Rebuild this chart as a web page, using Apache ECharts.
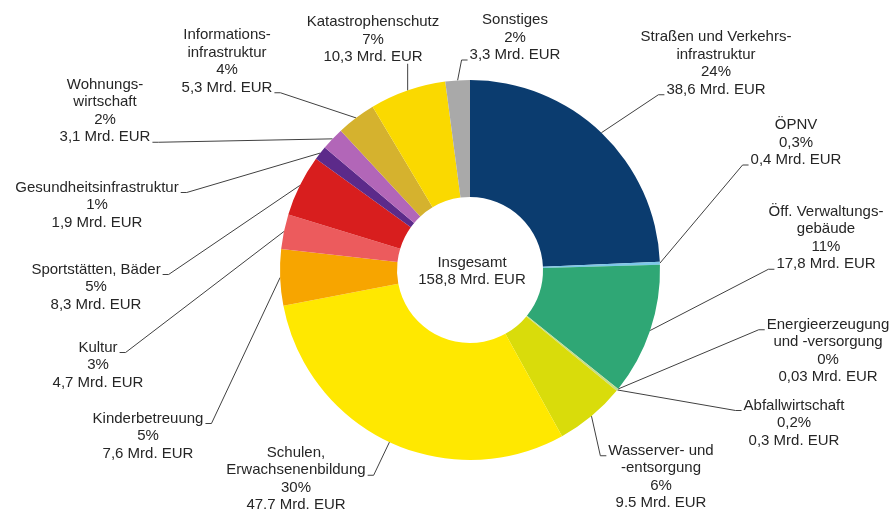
<!DOCTYPE html>
<html>
<head>
<meta charset="utf-8">
<script src="https://cdn.jsdelivr.net/npm/echarts@6/dist/echarts.min.js"></script>
<style>
  html, body { margin: 0; padding: 0; background: #fff; }
  #chart { width: 895px; height: 510px; }
</style>
</head>
<body>
<div id="chart"></div>
<script>
  // Investitionsrückstand nach Bereichen (Mrd. EUR)
  var names = [
    'Straßen und Verkehrs-\ninfrastruktur', 'ÖPNV', 'Öff. Verwaltungs-\ngebäude',
    'Energieerzeugung\nund -versorgung', 'Abfallwirtschaft', 'Wasserver- und\n-entsorgung',
    'Schulen,\nErwachsenenbildung', 'Kinderbetreuung', 'Kultur', 'Sportstätten, Bäder',
    'Gesundheitsinfrastruktur', 'Wohnungs-\nwirtschaft', 'Informations-\ninfrastruktur',
    'Katastrophenschutz', 'Sonstiges'
  ];
  var values = [38.6, 0.4, 17.8, 0.03, 0.3, 9.5, 47.7, 7.6, 4.7, 8.3, 1.9, 3.1, 5.3, 10.3, 3.3];
  var percentLabels = ['24%', '0,3%', '11%', '0%', '0,2%', '6%', '30%', '5%', '3%', '5%', '1%', '2%', '4%', '7%', '2%'];
  var valueLabels = ['38,6', '0,4', '17,8', '0,03', '0,3', '9.5', '47.7', '7,6', '4,7', '8,3', '1,9', '3,1', '5,3', '10,3', '3,3'];
  var colors = ['#0b3c6f', '#7dc7e8', '#2fa775', '#9fd6c2', '#c4dc8a', '#d9dc0b', '#ffe800', '#f7a500',
    '#ec5b5d', '#d81e1e', '#5c2a8a', '#b266b8', '#d5b22e', '#fad900', '#a9a9a9'];

  var FONT = "'Liberation Sans', Arial, sans-serif";
  var FONT_SIZE = 15;
  var LINE_H = 17.5;

  // where each label block sits: centre x, centre y, side the leader meets, text line it meets
  var labelPlaces = [
    [716, 63.5, 'L', 3],
    [796, 142.5, 'L', 2],
    [826, 238, 'L', 3],
    [828, 351, 'L', 0],
    [794, 423, 'L', 0],
    [661, 477, 'L', 0],
    [296, 479, 'R', 1],
    [148, 436, 'R', 0],
    [98, 365, 'R', 0],
    [96, 287, 'R', 0],
    [97, 205, 'R', 0],
    [105, 111, 'R', 3],
    [227, 61.5, 'R', 3],
    [373, 39.5, 'B', 2],
    [515, 37.5, 'L', 2]
  ];

  var ctx = document.createElement('canvas').getContext('2d');
  ctx.font = FONT_SIZE + 'px ' + FONT;
  function textWidth(s) {
    return ctx.measureText(s).width;
  }
  function labelText(i) {
    return names[i] + '\n' + percentLabels[i] + '\n' + valueLabels[i] + ' Mrd. EUR';
  }

  var total = values.reduce(function (a, b) { return a + b; }, 0);
  var totalText = total.toFixed(1).replace('.', ',');

  var data = [];
  for (var i = 0; i < names.length; i++) {
    data.push({ name: names[i], value: values[i], itemStyle: { color: colors[i] } });
  }

  var chart = echarts.init(document.getElementById('chart'), null, { renderer: 'canvas' });
  var option = {
    animation: false,
    textStyle: { fontFamily: FONT },
    graphic: [{
      type: 'text',
      x: 472,
      y: 271.5,
      style: {
        text: 'Insgesamt\n' + totalText + ' Mrd. EUR',
        align: 'center',
        verticalAlign: 'middle',
        fontFamily: FONT,
        fontSize: FONT_SIZE,
        lineHeight: LINE_H,
        fill: '#262626'
      }
    }],
    series: [{
      type: 'pie',
      center: [470, 270],
      radius: [73, 190],
      startAngle: 90,
      clockwise: true,
      avoidLabelOverlap: false,
      data: data,
      itemStyle: { borderWidth: 0 },
      label: {
        show: true,
        position: 'outside',
        formatter: function (p) { return labelText(p.dataIndex); },
        fontFamily: FONT,
        fontSize: FONT_SIZE,
        lineHeight: LINE_H,
        color: '#262626',
        align: 'center'
      },
      labelLine: {
        show: true,
        length: 12,
        length2: 8,
        lineStyle: { color: '#404040', width: 1 }
      },
      labelLayout: function (params) {
        var i = params.dataIndex;
        var p = labelPlaces[i];
        var lines = labelText(i).split('\n');
        var n = lines.length;
        var anchor = params.labelLinePoints ? params.labelLinePoints[0] : [p[0], p[1]];
        var pts;
        if (p[2] === 'B') {
          var bottom = p[1] + n * LINE_H / 2 - 2;
          pts = [anchor, [anchor[0], bottom], [anchor[0], bottom]];
        } else {
          var lineY = p[1] - (n - 1) * LINE_H / 2 + p[3] * LINE_H;
          var half = textWidth(lines[p[3]]) / 2 + 2;
          var ax = p[2] === 'L' ? p[0] - half : p[0] + half;
          var ay = lineY + 5;
          var bx = p[2] === 'L' ? ax - 6 : ax + 6;
          pts = [anchor, [bx, ay], [ax, ay]];
        }
        return {
          x: p[0],
          y: p[1],
          align: 'center',
          verticalAlign: 'middle',
          labelLinePoints: pts
        };
      }
    }]
  };
  chart.setOption(option);
</script>
</body>
</html>
